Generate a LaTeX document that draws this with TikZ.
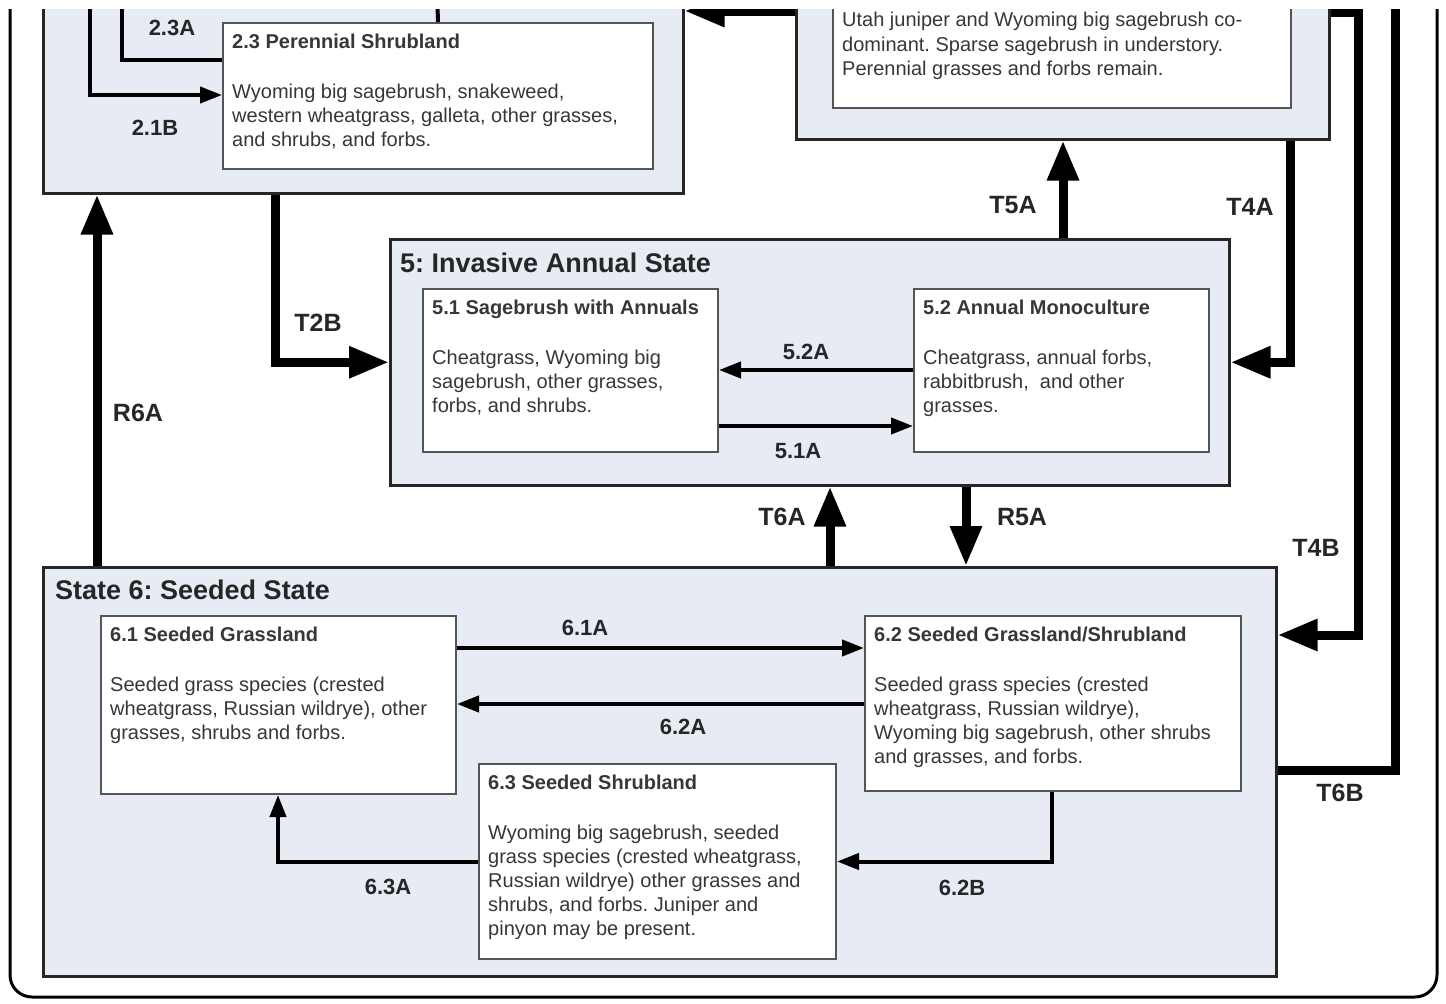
\documentclass[tikz,border=0pt]{standalone}
\usepackage{fontspec}
\setmainfont{Liberation Sans}
\usetikzlibrary{arrows.meta}
\frenchspacing

\definecolor{statefill}{RGB}{231,235,243}
\definecolor{boxline}{RGB}{85,85,85}
\definecolor{bodytext}{RGB}{55,55,55}

\begin{document}
\begin{tikzpicture}[x=1pt,y=-1pt,
	statebox/.style={draw=black!85,line width=2.5pt,fill=statefill,anchor=north west,inner sep=0pt},
	subbox/.style={draw=boxline,line width=2pt,fill=white,anchor=north west,inner sep=0pt},
	boxtxt/.style={anchor=north west,inner sep=0pt,align=left,text=bodytext,font=\fontsize{20}{24}\selectfont},
	sttitle/.style={anchor=west,inner sep=0pt,text=black!85,font=\fontsize{27}{30}\selectfont\bfseries},
	biglbl/.style={text=black!85,font=\fontsize{25}{28}\selectfont\bfseries},
	smalllbl/.style={text=black!85,font=\fontsize{22}{24}\selectfont\bfseries},
	bigarrow/.style={line width=9pt,-{Triangle[length=40pt,width=30pt]}},
	smallarrow/.style={line width=4pt,-{Triangle[length=22pt,width=16pt]}},
	thinline/.style={line width=4pt}]
	
	\useasboundingbox (0,0) rectangle (1446,1004);
	% the drawing is cut a little below the top edge
	\clip (0,9) rectangle (1446,1004);
	
	\draw[line width=3pt,rounded corners=22pt] (10,-40) rectangle (1437,997);
	
	% state 2, cut at the top
	\node[statebox,minimum width=640,minimum height=222] (st2) at (42,-30) {};
	\node[subbox,minimum width=430,minimum height=146] (s23) at (222,22) {};
	\node[boxtxt] (t23) at ([shift={(10,12)}]s23.north west) {\textbf{2.3 Perennial Shrubland}\\[26pt]Wyoming big sagebrush, snakeweed,\\western wheatgrass, galleta, other grasses,\\and shrubs, and forbs.};
	
	% state 4, cut at the top
	\node[statebox,minimum width=533,minimum height=168] (st4) at (795,-30) {};
	\node[subbox,minimum width=458,minimum height=137] (s4in) at (832,-30) {};
	\node[boxtxt,font=\fontsize{20}{24.5}\selectfont] (t4in) at (842,12) {Utah juniper and Wyoming big sagebrush co-\\dominant. Sparse sagebrush in understory.\\Perennial grasses and forbs remain.};
	
	% state 5
	\node[statebox,minimum width=839,minimum height=246] (st5) at (389,238) {};
	\node[sttitle] (ti5) at ([shift={(11,25)}]st5.north west) {5: Invasive Annual State};
	\node[subbox,minimum width=295,minimum height=163] (s51) at (422,288) {};
	\node[boxtxt] (t51) at ([shift={(10,12)}]s51.north west) {\textbf{5.1 Sagebrush with Annuals}\\[26pt]Cheatgrass, Wyoming big\\sagebrush, other grasses,\\forbs, and shrubs.};
	\node[subbox,minimum width=295,minimum height=163] (s52) at (913,288) {};
	\node[boxtxt] (t52) at ([shift={(10,12)}]s52.north west) {\textbf{5.2 Annual Monoculture}\\[26pt]Cheatgrass, annual forbs,\\rabbitbrush,\ \ and other\\grasses.};
	
	% state 6
	\node[statebox,minimum width=1233,minimum height=409] (st6) at (42,566) {};
	\node[sttitle] (ti6) at ([shift={(13,24)}]st6.north west) {State 6: Seeded State};
	\node[subbox,minimum width=355,minimum height=178] (s61) at (100,615) {};
	\node[boxtxt] (t61) at ([shift={(10,12)}]s61.north west) {\textbf{6.1 Seeded Grassland}\\[26pt]Seeded grass species (crested\\wheatgrass, Russian wildrye), other\\grasses, shrubs and forbs.};
	\node[subbox,minimum width=376,minimum height=175] (s62) at (864,615) {};
	\node[boxtxt] (t62) at ([shift={(10,12)}]s62.north west) {\textbf{6.2 Seeded Grassland/Shrubland}\\[26pt]Seeded grass species (crested\\wheatgrass, Russian wildrye),\\Wyoming big sagebrush, other shrubs\\and grasses, and forbs.};
	\node[subbox,minimum width=357,minimum height=195] (s63) at (478,763) {};
	\node[boxtxt] (t63) at ([shift={(10,12)}]s63.north west) {\textbf{6.3 Seeded Shrubland}\\[26pt]Wyoming big sagebrush, seeded\\grass species (crested wheatgrass,\\Russian wildrye) other grasses and\\shrubs, and forbs. Juniper and\\pinyon may be present.};
	
	% loose ends above the crop
	\coordinate (a23) at (122,-10);
	\coordinate (b21) at (90,-10);
	\coordinate (u23) at (437,-10);
	\coordinate (t4b) at (1358,12);
	\coordinate (t6b) at (1395,-10);
	
	% pathways inside states
	\draw[thinline] (a23) |- ([yshift=-38]s23.north west);
	\draw[smallarrow] (b21) |- ([yshift=-73]s23.north west);
	\draw[thinline] (s23.north) -- (u23);
	\draw[smallarrow] ([yshift=-82]s52.north west) -- ([yshift=-82]s51.north east);
	\draw[smallarrow] ([yshift=-138]s51.north east) -- ([yshift=-138]s52.north west);
	\draw[smallarrow] ([yshift=-33]s61.north east) -- ([yshift=-33]s62.north west);
	\draw[smallarrow] ([yshift=-89]s62.north west) -- ([yshift=-89]s61.north east);
	\draw[smallarrow] ([xshift=188]s62.south west) |- (s63.east);
	\draw[smallarrow] (s63.west) -| ([xshift=178]s61.south west);
	
	% transitions between states
	\draw[bigarrow] ([yshift=-41]st4.north west) -- ([yshift=-41]st2.north east);
	\draw[bigarrow] ([xshift=55]st6.north west) -- ([xshift=55]st2.south west);
	\draw[bigarrow] ([xshift=233]st2.south west) |- (st5.west);
	\draw[bigarrow] ([xshift=674]st5.north west) -- ([xshift=268]st4.south west);
	\draw[bigarrow] ([xshift=495]st4.south west) |- (st5.east);
	\draw[bigarrow] ([yshift=-42]st4.north east) -- (t4b) |- ([yshift=-69]st6.north east);
	\draw[line width=9pt] ([yshift=-204]st6.north east) -| (t6b);
	\draw[bigarrow] ([xshift=788]st6.north west) -- ([xshift=441]st5.south west);
	\draw[bigarrow] ([xshift=577]st5.south west) -- ([xshift=924]st6.north west);
	
	% labels
	\node[smalllbl] (l23a) at (172,28) {2.3A};
	\node[smalllbl] (l21b) at (155,128) {2.1B};
	\node[smalllbl] (l52a) at (806,352) {5.2A};
	\node[smalllbl] (l51a) at (798,451) {5.1A};
	\node[smalllbl] (l61a) at (585,628) {6.1A};
	\node[smalllbl] (l62a) at (683,727) {6.2A};
	\node[smalllbl] (l62b) at (962,888) {6.2B};
	\node[smalllbl] (l63a) at (388,887) {6.3A};
	\node[biglbl] (lt2b) at (318,323) {T2B};
	\node[biglbl] (lr6a) at (138,413) {R6A};
	\node[biglbl] (lt5a) at (1013,205) {T5A};
	\node[biglbl] (lt4a) at (1250,207) {T4A};
	\node[biglbl] (lt4b) at (1316,548) {T4B};
	\node[biglbl] (lt6b) at (1340,793) {T6B};
	\node[biglbl] (lt6a) at (782,517) {T6A};
	\node[biglbl] (lr5a) at (1022,517) {R5A};
	
\end{tikzpicture}
\end{document}
